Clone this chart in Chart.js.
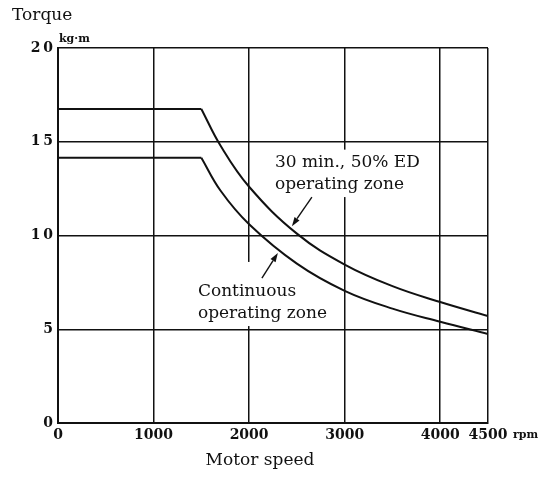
<!DOCTYPE html>
<html><head><meta charset="utf-8">
<script src="https://cdn.jsdelivr.net/npm/chart.js@4"></script>
<style>html,body{margin:0;padding:0;background:#fff}canvas{display:block}</style>
</head><body>
<canvas id="c" width="544" height="489"></canvas>
<script>
// ---- data ----
const speedTicks  = [0, 1000, 2000, 3000, 4000, 4500];
const torqueTicks = [0, 5, 10, 15, 20];
const speeds      = [0, 1500, 1700, 2000, 2500, 3000, 3500, 4000, 4500];
const torque30min = [16.75, 16.75, 14.8, 12.6, 10.1, 8.45, 7.3, 6.45, 5.7];
const torqueCont  = [14.15, 14.15, 12.4, 10.6, 8.5, 7.05, 6.1, 5.4, 4.75];
const cornerIndex = 1;

const INK = '#111';
const SERIF = '"DejaVu Serif", "Liberation Serif", serif';

function pts(ys, a, b) {
  return speeds.slice(a, b).map((x, i) => ({ x: x, y: ys[a + i] }));
}
function lineDs(data, curved) {
  return {
    data: data, showLine: true, pointRadius: 0, borderColor: INK, borderWidth: 2,
    fill: false, cubicInterpolationMode: 'default', tension: curved ? 0.4 : 0
  };
}

// annotation labels (positions in data units)
const notes = [
  { lines: ['30 min., 50% ED', 'operating zone'], x: 2270, y: 13.87,
    mask: { x0: 2218, x1: 3912, y0: 14.58, y1: 12.05 },
    arrow: { x0: 2657, y0: 12.05, x1: 2448, y1: 10.5 } },
  { lines: ['Continuous', 'operating zone'], x: 1464, y: 6.99,
    mask: { x0: 1423, x1: 2803, y0: 8.59, y1: 5.17 },
    arrow: { x0: 2134, y0: 7.73, x1: 2301, y1: 9.07 } }
];

const decor = {
  id: 'decor',
  beforeDatasetsDraw(chart) {
    const ctx = chart.ctx, xs = chart.scales.x, ys = chart.scales.y;
    ctx.save();
    ctx.fillStyle = '#fff';
    notes.forEach(n => {
      const x0 = xs.getPixelForValue(n.mask.x0), x1 = xs.getPixelForValue(n.mask.x1);
      const y0 = ys.getPixelForValue(n.mask.y0), y1 = ys.getPixelForValue(n.mask.y1);
      ctx.fillRect(x0, y0, x1 - x0, y1 - y0);
    });
    ctx.restore();
  },
  afterDatasetsDraw(chart) {
    const ctx = chart.ctx, xs = chart.scales.x, ys = chart.scales.y;
    ctx.save();
    ctx.fillStyle = INK; ctx.strokeStyle = INK;
    ctx.font = '17px ' + SERIF;
    ctx.textAlign = 'left'; ctx.textBaseline = 'middle';
    notes.forEach(n => {
      const px = xs.getPixelForValue(n.x), py = ys.getPixelForValue(n.y);
      n.lines.forEach((t, i) => ctx.fillText(t, px, py + i * 22));
      const ax0 = xs.getPixelForValue(n.arrow.x0), ay0 = ys.getPixelForValue(n.arrow.y0);
      const ax1 = xs.getPixelForValue(n.arrow.x1), ay1 = ys.getPixelForValue(n.arrow.y1);
      const ang = Math.atan2(ay1 - ay0, ax1 - ax0);
      const L = 9, W = 3;
      const bx = ax1 - L * Math.cos(ang), by = ay1 - L * Math.sin(ang);
      ctx.lineWidth = 1.4;
      ctx.beginPath(); ctx.moveTo(ax0, ay0); ctx.lineTo(bx, by); ctx.stroke();
      ctx.beginPath();
      ctx.moveTo(ax1, ay1);
      ctx.lineTo(bx + W * Math.sin(ang), by - W * Math.cos(ang));
      ctx.lineTo(bx - W * Math.sin(ang), by + W * Math.cos(ang));
      ctx.closePath(); ctx.fill();
    });
    ctx.restore();
  },
  afterDraw(chart) {
    const ctx = chart.ctx, a = chart.chartArea;
    ctx.save();
    ctx.fillStyle = INK;
    ctx.textBaseline = 'middle';
    ctx.font = '17px ' + SERIF;
    ctx.textAlign = 'left';
    ctx.fillText('Torque', 12, 16);
    ctx.textAlign = 'center';
    ctx.fillText('Motor speed', (a.left + a.right) / 2 - 13, 461);
    ctx.font = 'bold 11px ' + SERIF;
    ctx.textAlign = 'left';
    ctx.fillText('kg\u00b7m', a.left + 1, 39);
    ctx.fillText('rpm', a.right + 25, 435);
    ctx.restore();
  }
};

new Chart(document.getElementById('c'), {
  type: 'scatter',
  data: {
    datasets: [
      lineDs(pts(torque30min, 0, cornerIndex + 1), false),
      lineDs(pts(torque30min, cornerIndex, speeds.length), true),
      lineDs(pts(torqueCont, 0, cornerIndex + 1), false),
      lineDs(pts(torqueCont, cornerIndex, speeds.length), true)
    ]
  },
  options: {
    responsive: false, animation: false, devicePixelRatio: 1,
    layout: { padding: { top: 48, right: 56, left: 0, bottom: 0 } },
    plugins: { legend: { display: false }, tooltip: { enabled: false } },
    scales: {
      x: {
        type: 'linear', min: 0, max: 4500,
        afterBuildTicks: s => { s.ticks = speedTicks.map(v => ({ value: v })); },
        afterFit: s => { s.height = 66; },
        grid: { color: INK, lineWidth: 1.5, drawTicks: false },
        border: { display: true, color: INK, width: 2 },
        ticks: { color: INK, padding: 4, autoSkip: false, maxRotation: 0,
                 font: { family: SERIF, weight: 'bold', size: 14 },
                 callback: v => String(v) }
      },
      y: {
        type: 'linear', min: 0, max: 20,
        afterBuildTicks: s => { s.ticks = torqueTicks.map(v => ({ value: v })); },
        afterFit: s => { s.width = 58; },
        grid: { color: INK, lineWidth: 1.5, drawTicks: false },
        border: { display: true, color: INK, width: 2 },
        ticks: { color: INK, padding: 5, autoSkip: false,
                 font: { family: SERIF, weight: 'bold', size: 14 },
                 callback: v => String(v).split('').join('\u2009') }
      }
    }
  },
  plugins: [decor]
});
</script>
</body></html>
